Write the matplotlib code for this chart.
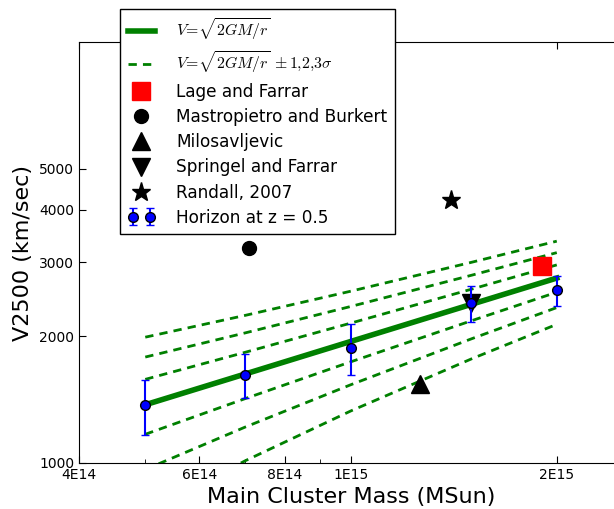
import numpy as np
import matplotlib.pyplot as plt
from matplotlib.legend_handler import HandlerErrorbar

plt.rcParams['mathtext.fontset'] = 'cm'
plt.rcParams['font.family'] = 'DejaVu Sans'

# Horizon simulation points (z = 0.5)
horizon_mass = [5e14, 7e14, 1e15, 1.5e15, 2e15]
horizon_v = [1373, 1618, 1875, 2400, 2576]
horizon_err = [205, 195, 260, 235, 210]

# V = sqrt(2GM/r) curve at the same masses, and its scatter
fit_v = [1375, 1627, 1945, 2382, 2750]
sigma_v = 205

# individual literature points
lage_m, lage_v = [1.9e15], [2940]
mastro_m, mastro_v = [7.1e14], [3250]
milo_m, milo_v = [1.26e15], [1540]
springel_m, springel_v = [1.5e15], [2400]
randall_m, randall_v = [1.4e15], [4215]

xticks = [4e14, 6e14, 8e14, 1e15, 2e15]
xticklabels = ['4E14', '6E14', '8E14', '1E15', '2E15']
yticks = [1000, 2000, 3000, 4000, 5000]

fig = plt.figure(figsize=(6.14, 5.09), dpi=100)
ax = fig.add_axes([0.1287, 0.0904, 0.886, 0.827])

fit = np.array(fit_v)
ax.plot(horizon_mass, fit, color='green', lw=4, label=r'$V\!=\!\sqrt{2GM/r}$')
for n in (1, 2, 3):
    for sgn in (1, -1):
        lab = r'$V\!=\!\sqrt{2GM/r}\,\pm 1{,}2{,}3\sigma$' if (n == 1 and sgn == 1) else None
        ax.plot(horizon_mass, fit + sgn * n * sigma_v, color='green', lw=2,
                linestyle=(0, (3, 2.2)), label=lab)

ax.plot(lage_m, lage_v, 's', color='red', mec='red', ms=13, label='Lage and Farrar')
ax.plot(mastro_m, mastro_v, 'o', color='black', ms=10, label='Mastropietro and Burkert')
ax.plot(milo_m, milo_v, '^', color='black', ms=13, label='Milosavljevic')
ax.plot(springel_m, springel_v, 'v', color='black', ms=13, label='Springel and Farrar')
ax.plot(randall_m, randall_v, '*', color='black', ms=14, label='Randall, 2007')
ax.errorbar(horizon_mass, horizon_v, yerr=horizon_err, fmt='o', color='blue',
            mfc='blue', mec='black', ms=7, ecolor='blue', capsize=3,
            label='Horizon at z = 0.5')

ax.set_xscale('log')
ax.set_yscale('log')
ax.set_xlim(4e14, 2.5e15)
ax.set_ylim(1000, 10000)
ax.set_xticks(xticks)
ax.set_xticklabels(xticklabels)
ax.set_xticks([5e14, 7e14, 9e14], minor=True)
ax.set_xticklabels([], minor=True)
ax.set_yticks(yticks)
ax.set_yticklabels([str(t) for t in yticks])
ax.set_yticks([], minor=True)
ax.tick_params(which='both', direction='in', top=True, right=True, labelsize=10)
ax.tick_params(which='major', length=5)
ax.tick_params(which='minor', length=3)

ax.set_xlabel('Main Cluster Mass (MSun)', fontsize=16)
ax.set_ylabel('V2500 (km/sec)', fontsize=16)

leg = ax.legend(loc='upper left', bbox_to_anchor=(0.0754, 1.078), borderaxespad=0,
                fontsize=12.2, numpoints=1, handlelength=1.6, handletextpad=1.25,
                borderpad=0.45, fancybox=False, framealpha=1, edgecolor='black',
                labelspacing=0.42,
                handler_map={type(ax.containers[0]): HandlerErrorbar(numpoints=2)})
leg.get_frame().set_linewidth(1)
# the two formula labels are set a little smaller
for t in leg.get_texts()[:2]:
    t.set_fontsize(11.4)

fig.savefig('out.png', dpi=100)
